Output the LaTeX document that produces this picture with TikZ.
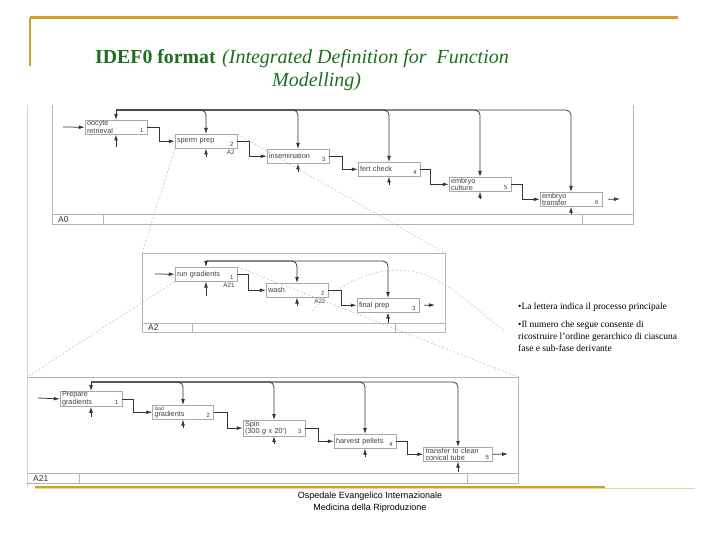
\documentclass[tikz,border=0pt]{standalone}
\usepackage{fontspec}
\setmainfont{Liberation Serif}
\setsansfont{Liberation Sans}
\usetikzlibrary{arrows.meta}
\definecolor{gold}{HTML}{C9A22A}
\definecolor{titlegreen}{HTML}{1F6E1F}
\definecolor{framegray}{HTML}{B4B4B4}
\definecolor{boxgray}{HTML}{A8A8A8}
\definecolor{linegray}{HTML}{333333}
\definecolor{dashgray}{HTML}{C4C4C4}
\definecolor{sideblue}{HTML}{C9D6E3}
\begin{document}
\begin{tikzpicture}[x=1pt,y=-1pt,
 proc/.style={draw=boxgray, line width=0.5pt, anchor=north, text width=#1, inner xsep=2pt, inner ysep=0.5pt, minimum height=14pt, align=left, font=\sffamily\fontsize{7.3}{6.6}\selectfont, text=black!75},
 proc/.default=58pt,
 num/.style={font=\sffamily\fontsize{6}{6}\selectfont, inner sep=0.5pt, text=black!75},
 sub/.style={font=\sffamily\fontsize{6.3}{6.3}\selectfont, inner sep=0.5pt, text=black!75},
 flow/.style={draw=linegray, line width=0.75pt, -{Latex[length=6pt,width=3.8pt]}},
 ctl/.style={flow, rounded corners=5pt},
 frame/.style={draw=framegray, line width=0.6pt},
 decomp/.style={draw=dashgray, line width=0.6pt, dash pattern=on 2pt off 2pt},
 tag/.style={font=\sffamily\fontsize{8.5}{8.5}\selectfont, anchor=west, inner sep=0pt, text=black!80},
]
\path[use as bounding box] (0,0) rectangle (720,540);

% gold rules
\draw[gold, line width=3pt] (30,18) -- (678,18);
\draw[gold, line width=2.5pt] (30,18) -- (30,66);
\draw[gold!45, line width=1pt] (35,488) -- (695,488);
\draw[gold, line width=2.5pt] (35,487) -- (605,487);

% title
\node[anchor=base west, inner sep=0pt, text=titlegreen, font=\bfseries\fontsize{19.8}{20}\selectfont] (title) at (95,64) {IDEF0 format};
\node[anchor=base west, inner sep=0pt, text=titlegreen, font=\itshape\fontsize{20}{20}\selectfont] (subtitle) at (222,64) {(Integrated Definition for\ \ Function};
\node[anchor=base west, inner sep=0pt, text=titlegreen, font=\itshape\fontsize{20}{20}\selectfont] (subtitle2) at (272,87) {Modelling)};

% side line
\draw[sideblue, line width=0.8pt] (27,105) -- (27,487);

% ===== A0 frame =====
\draw[frame] (52,105) -- (52,224) -- (633,224) -- (633,105);
\draw[frame] (52,214) -- (633,214);
\draw[frame] (103,214) -- (103,224);
\draw[frame] (582,214) -- (582,224);
\node[tag] (tA0) at (58,219.5) {A0};

% ===== A2 frame =====
\draw[frame] (142,253) rectangle (445,332);
\draw[frame] (142,323) -- (445,323);
\draw[frame] (192,323) -- (192,332);
\draw[frame] (395,323) -- (395,332);
\node[tag] (tA2) at (148,328) {A2};

% ===== A21 frame =====
\draw[frame] (27,377) -- (518,377) -- (518,483) -- (27,483);
\draw[frame] (27,473) -- (518,473);
\draw[frame] (79,473) -- (79,483);
\draw[frame] (467,473) -- (467,483);
\node[tag] (tA21) at (33,478.5) {A21};

% ===== decomposition lines =====
\coordinate (A2tl) at (142,253);
\coordinate (A2tr) at (445,253);
\coordinate (A21tl) at (27,377);
\coordinate (A21tr) at (518,377);

% ===== A0 boxes =====
\node[proc] (a1) at (116,120) {oocyte\\retrieval};
\node[proc] (a2) at (206,134) {sperm prep};
\node[proc] (a3) at (298,149) {insemination};
\node[proc] (a4) at (389,162) {fert check};
\node[proc] (a5) at (480,177) {embryo\\culture};
\node[proc] (a6) at (571,192) {embryo\\transfer};
\foreach \b/\n in {a1/1,a2/2,a3/3,a4/4,a5/5,a6/6}
  \node[num, anchor=south east] (\b n) at ([xshift=-3pt,yshift=1.5pt]\b.south east) {\n};
\node[sub, anchor=north east] (a2s) at ([xshift=-2pt,yshift=-0.5pt]a2.south east) {A2};

\draw[decomp] (a2.south west) -- (A2tl);
\draw[decomp] (a2.north east) -- (A2tr);

% controls A0
\coordinate (c0) at (116,110);
\draw[flow] (c0) -- (a1.north);
\foreach \b in {a2,a3,a4,a5,a6} \draw[ctl] (c0) -| (\b.north);
% mechanisms A0
\coordinate (m1) at (116,147);
\coordinate (m2) at (206,157);
\coordinate (m3) at (298,172);
\coordinate (m4) at (389,185);
\coordinate (m5) at (480,199);
\coordinate (m6) at (571,214);
\draw[flow] (m1) -- (a1.south);
\draw[flow] (m2) -- (a2.south);
\draw[flow] (m3) -- (a3.south);
\draw[flow] (m4) -- (a4.south);
\draw[flow] (m5) -- (a5.south);
\draw[flow] (m6) -- (a6.south);
% input / outputs A0
\coordinate (in0) at (63,127);
\coordinate (out0) at (620,199);
\draw[flow] (in0) -- (a1.west);
\draw[flow] (a1.east) -- ++(12,0) |- (a2.west);
\draw[flow] (a2.east) -- ++(12,0) |- (a3.west);
\draw[flow] (a3.east) -- ++(13,0) |- (a4.west);
\draw[flow] (a4.east) -- ++(10,0) |- (a5.west);
\draw[flow] (a5.east) -- ++(11,0) |- (a6.west);
\draw[flow] ([xshift=6pt]a6.east) -- (out0);

% ===== A2 boxes =====
\node[proc] (b1) at (206,267) {run gradients};
\node[proc] (b2) at (297,283) {wash};
\node[proc] (b3) at (388,298) {final prep};
\foreach \b/\n in {b1/1,b2/2,b3/3}
  \node[num, anchor=south east] (\b n) at ([xshift=-3pt,yshift=1.5pt]\b.south east) {\n};
\node[sub, anchor=north east] (b1s) at ([xshift=-2pt,yshift=-0.5pt]b1.south east) {A21};
\node[sub, anchor=north east] (b2s) at ([xshift=-2pt,yshift=-0.5pt]b2.south east) {A22};

\draw[decomp] (b1.south west) -- (A21tl);
\draw[decomp] (b1.north east) -- (A21tr);
\draw[decomp] (312,311) .. controls (350,272) and (400,258) .. (440,282) .. controls (468,298) and (488,320) .. (505,331);

\coordinate (c2) at (206,261);
\draw[flow] (c2) -- (b1.north);
\foreach \b in {b2,b3} \draw[ctl] (c2) -| (\b.north);
\coordinate (n1) at (206,296);
\coordinate (n2) at (297,306);
\coordinate (n3) at (388,323);
\draw[flow] (n1) -- (b1.south);
\draw[flow] (n2) -- (b2.south);
\draw[flow] (n3) -- (b3.south);
\coordinate (in2) at (155,274);
\coordinate (out2) at (435,305);
\draw[flow] (in2) -- (b1.west);
\draw[flow] (b1.east) -- ++(11,0) |- (b2.west);
\draw[flow, line width=1pt] (b2.east) -- ++(13,0) |- (b3.west);
\draw[flow] ([xshift=5pt]b3.east) -- (out2);

% ===== A21 boxes =====
\node[proc] (d1) at (91,391) {Prepare\\gradients};
\node[proc=57pt] (d2) at (183,405) {{\fontsize{5}{5}\selectfont load}\\gradients};
\node[proc] (d3) at (274,420) {Spin\\(300 \emph{g} x 20')};
\node[proc] (d4) at (365,434) {harvest pellets};
\node[proc=65pt] (d5) at (458,447) {transfer to clean\\conical tube};
\foreach \b/\n in {d1/1,d2/2,d3/3,d4/4,d5/5}
  \node[num, anchor=south east] (\b n) at ([xshift=-3pt,yshift=1.5pt]\b.south east) {\n};

\coordinate (c3) at (91,382);
\draw[flow] (c3) -- (d1.north);
\foreach \b in {d2,d3,d4,d5} \draw[ctl] (c3) -| (\b.north);
\coordinate (p1) at (91,417);
\coordinate (p2) at (183,428);
\coordinate (p3) at (274,444);
\coordinate (p4) at (365,457);
\coordinate (p5) at (458,472);
\draw[flow] (p1) -- (d1.south);
\draw[flow] (p2) -- (d2.south);
\draw[flow] (p3) -- (d3.south);
\draw[flow] (p4) -- (d4.south);
\draw[flow] (p5) -- (d5.south);
\coordinate (in3) at (38,398);
\coordinate (out3) at (508,454);
\draw[flow] (in3) -- (d1.west);
\draw[flow] (d1.east) -- ++(11,0) |- (d2.west);
\draw[flow] (d2.east) -- ++(14,0) |- (d3.west);
\draw[flow] (d3.east) -- ++(13,0) |- (d4.west);
\draw[flow] (d4.east) -- ++(11,0) |- (d5.west);
\draw[flow] (d5.east) -- (out3);

% notes
\node[anchor=north west, align=left, inner sep=0pt, font=\fontsize{9.5}{12}\selectfont] (note) at (518,303)
 {\textbullet La lettera indica il processo principale\\[6pt]
  \textbullet Il numero che segue consente di\\
  ricostruire l’ordine gerarchico di ciascuna\\
  fase e sub-fase derivante};

% footer
\node[align=center, inner sep=0pt, font=\sffamily\fontsize{9}{12}\selectfont] (footer) at (370,502)
 {Ospedale Evangelico Internazionale\\Medicina della Riproduzione};
\end{tikzpicture}
\end{document}
